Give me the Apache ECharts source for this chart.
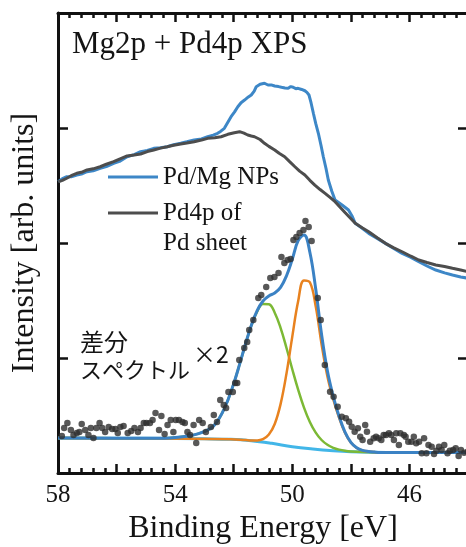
<!DOCTYPE html>
<html>
<head>
<meta charset="utf-8">
<script src="https://cdn.jsdelivr.net/npm/echarts@6/dist/echarts.min.js"></script>
<style>html,body{margin:0;padding:0;background:#fff;}#c{width:466px;height:547px;}</style>
</head>
<body>
<div id="c"></div>
<script>
// ---- tick labels ----
const energyTickLabels = [58, 54, 50, 46];

// ---- measured spectra [binding energy eV, intensity] ----
const pdMgNPs = [[57.99,2.533],[57.85,2.56],[57.70,2.577],[57.55,2.575],[57.36,2.591],[57.2,2.60],[57.01,2.620],[56.8,2.628],[56.56,2.650],[56.35,2.665],[56.10,2.693],[55.9,2.71],[55.64,2.750],[55.4,2.768],[55.18,2.794],[54.95,2.805],[54.73,2.823],[54.5,2.828],[54.27,2.837],[54.05,2.855],[53.81,2.867],[53.6,2.88],[53.35,2.896],[53.1,2.905],[52.89,2.924],[52.7,2.938],[52.55,2.954],[52.45,2.97],[52.32,2.997],[52.2,3.05],[52.09,3.098],[51.97,3.14],[51.86,3.185],[51.75,3.22],[51.63,3.243],[51.5,3.27],[51.40,3.287],[51.3,3.32],[51.23,3.359],[51.1,3.38],[50.95,3.389],[50.83,3.374],[50.72,3.375],[50.60,3.365],[50.47,3.36],[50.37,3.354],[50.25,3.348],[50.14,3.345],[50.05,3.36],[49.97,3.354],[49.88,3.342],[49.80,3.345],[49.68,3.335],[49.57,3.324],[49.50,3.31],[49.43,3.287],[49.36,3.22],[49.28,3.128],[49.2,3.04],[49.11,2.954],[49.02,2.85],[48.94,2.750],[48.85,2.65],[48.77,2.548],[48.65,2.45],[48.54,2.374],[48.3,2.33],[48.08,2.287],[47.95,2.23],[47.85,2.171],[47.6,2.125],[47.39,2.084],[47.1,2.04],[46.82,1.997],[46.55,1.955],[46.25,1.910],[45.95,1.875],[45.68,1.837],[45.4,1.80],[45.10,1.765],[44.8,1.74],[44.53,1.722],[44.25,1.705],[43.98,1.693]];

const pdSheet = [[57.99,2.533],[57.85,2.545],[57.70,2.563],[57.55,2.585],[57.36,2.606],[57.2,2.615],[57.01,2.635],[56.8,2.645],[56.56,2.663],[56.35,2.685],[56.10,2.707],[55.9,2.73],[55.64,2.757],[55.4,2.765],[55.18,2.774],[54.95,2.795],[54.73,2.809],[54.5,2.825],[54.27,2.837],[54.05,2.85],[53.81,2.861],[53.6,2.87],[53.35,2.881],[53.1,2.895],[52.89,2.910],[52.65,2.915],[52.43,2.924],[52.2,2.945],[51.98,2.959],[51.8,2.968],[51.65,2.955],[51.52,2.939],[51.4,2.93],[51.29,2.924],[51.1,2.9],[50.95,2.867],[50.8,2.84],[50.60,2.809],[50.45,2.78],[50.26,2.750],[50.1,2.71],[49.91,2.663],[49.75,2.625],[49.57,2.591],[49.4,2.545],[49.23,2.504],[49.05,2.465],[48.88,2.432],[48.7,2.395],[48.54,2.359],[48.2,2.265],[47.85,2.171],[47.6,2.13],[47.39,2.098],[47.1,2.045],[46.82,1.997],[46.55,1.96],[46.25,1.924],[45.95,1.885],[45.68,1.852],[45.4,1.83],[45.10,1.809],[44.8,1.795],[44.53,1.780],[44.25,1.765],[43.98,1.750]];

// ---- difference spectrum x2 (points) ----
const diffPoints = [[57.87,.322],[57.79,.391],[57.68,.435],[57.56,.374],[57.47,.330],[57.36,.348],[57.27,.357],[57.19,.426],[57.07,.374],[56.96,.330],[56.88,.391],[56.79,.304],[56.69,.391],[56.58,.435],[56.49,.391],[56.39,.357],[56.27,.400],[56.15,.383],[56.04,.383],[55.96,.348],[55.87,.400],[55.76,.409],[55.62,.348],[55.50,.365],[55.39,.391],[55.27,.357],[55.18,.391],[55.07,.435],[54.98,.435],[54.86,.435],[54.77,.461],[54.67,.522],[54.55,.374],[54.47,.496],[54.36,.339],[54.26,.417],[54.15,.461],[54.06,.357],[53.98,.461],[53.87,.461],[53.75,.443],[53.67,.435],[53.58,.357],[53.49,.330],[53.37,.417],[53.28,.261],[53.18,.461],[53.06,.435],[52.95,.357],[52.78,.400],[52.68,.504],[52.57,.443],[52.46,.635],[52.34,.591],[52.26,.565],[52.18,.704],[52.03,.704],[51.95,.783],[51.88,.783],[51.81,.983],[51.64,1.087],[51.54,1.139],[51.47,1.243],[51.33,1.330],[51.16,1.522],[51.06,1.548],[50.89,1.617],[50.75,1.696],[50.61,1.704],[50.47,1.739],[50.37,1.878],[50.27,1.826],[50.16,1.852],[50.06,1.861],[49.96,2.026],[49.86,2.052],[49.75,2.087],[49.62,2.113],[49.55,2.191],[49.44,2.139],[49.34,2.017],[49.13,1.522],[49.03,1.330],[48.89,.939],[48.71,.707],[48.59,.663],[48.45,.577],[48.31,.490],[48.17,.476],[48.06,.446],[47.97,.403],[47.87,.359],[47.76,.389],[47.68,.316],[47.60,.287],[47.51,.417],[47.45,.359],[47.34,.272],[47.22,.302],[47.14,.316],[47.05,.302],[46.96,.287],[46.88,.330],[46.80,.330],[46.70,.345],[46.62,.330],[46.53,.287],[46.45,.345],[46.36,.243],[46.31,.345],[46.19,.330],[46.13,.316],[46.04,.272],[45.93,.272],[45.85,.316],[45.77,.258],[45.67,.272],[45.58,.171],[45.50,.302],[45.42,.171],[45.35,.243],[45.24,.229],[45.16,.165],[45.08,.194],[44.99,.229],[44.90,.200],[44.81,.243],[44.70,.171],[44.62,.194],[44.51,.200],[44.42,.215],[44.32,.148],[44.24,.200],[44.13,.177],[44.01,.185]];

// ---- fitted curves ----
const backgroundFit = [[58,.304],[55,.302],[53,.297],[52.1,.293],[51.4,.281],[50.7,.258],[50.0,.229],[49.3,.209],[48.6,.194],[48.0,.185],[47.3,.180],[46.2,.178],[44,.178]];
const peakLow = [[58,.304],[55,.302],[54.2,.305],[53.6,.319],[53.2,.342],[52.8,.386],[52.6,.435],[52.4,.518],[52.2,.633],[52.0,.777],[51.8,.944],[51.6,1.119],[51.4,1.281],[51.2,1.404],[51.0,1.470],[50.8,1.468],[50.6,1.394],[50.4,1.262],[50.2,1.089],[50.0,.902],[49.8,.725],[49.6,.569],[49.4,.444],[49.2,.351],[49.0,.287],[48.8,.245],[48.6,.219],[48.4,.203],[48.2,.193],[48.0,.187],[47.6,.182],[47.0,.179],[44,.178]];
const peakHigh = [[58,.304],[55,.302],[52.1,.293],[51.6,.286],[51.4,.283],[51.2,.283],[51.0,.294],[50.8,.334],[50.6,.426],[50.4,.599],[50.2,.862],[50.0,1.186],[49.8,1.493],[49.6,1.675],[49.4,1.659],[49.2,1.449],[49.0,1.12],[48.8,.84],[48.6,.64],[48.4,.48],[48.2,.35],[48.0,.265],[47.8,.218],[47.6,.196],[47.4,.187],[47.2,.182],[47.0,.179],[44,.178]];
const totalFit = [[58,.304],[55,.302],[54.2,.305],[53.6,.319],[53.2,.342],[52.8,.386],[52.6,.435],[52.4,.518],[52.2,.633],[52.0,.777],[51.8,.944],[51.6,1.120],[51.4,1.283],[51.2,1.412],[51.0,1.496],[50.8,1.540],[50.6,1.565],[50.4,1.614],[50.2,1.713],[50.0,1.859],[49.8,2.02],[49.6,2.07],[49.4,1.92],[49.2,1.60],[49.0,1.205],[48.8,.887],[48.6,.665],[48.4,.492],[48.2,.355],[48.0,.267],[47.8,.22],[47.6,.197],[47.4,.187],[47.2,.182],[47.0,.179],[44,.178]];

const serif = '"Liberation Serif", "Times New Roman", serif';
const textColor = '#141414';
const chart = echarts.init(document.getElementById('c'), null, {renderer: 'canvas'});

const xBase = {
  type: 'value', min: 44, max: 58, interval: 2, inverse: true,
  axisLine: {show: true, onZero: false, lineStyle: {color: '#111', width: 3}},
  axisTick: {show: true, inside: true, length: 9, lineStyle: {color: '#111', width: 2.5}},
  minorTick: {show: true, splitNumber: 5, length: 5, lineStyle: {color: '#111', width: 2.5}},
  splitLine: {show: false}, minorSplitLine: {show: false}
};
const yBase = {
  type: 'value', min: 0, max: 4, interval: 1,
  axisLine: {show: true, onZero: false, lineStyle: {color: '#111', width: 3}},
  axisTick: {show: true, inside: true, length: 10, lineStyle: {color: '#111', width: 2.5}},
  axisLabel: {show: false}, splitLine: {show: false}
};

chart.setOption({
  animation: false,
  backgroundColor: '#fff',
  grid: {left: 58, top: 13, right: -2, bottom: 74, containLabel: false, outerBoundsMode: 'none'},
  title: {
    text: 'Mg2p + Pd4p XPS', left: 72, top: 29, padding: 0,
    textStyle: {fontFamily: serif, fontSize: 31, fontWeight: 'normal', color: textColor, lineHeight: 32}
  },
  legend: [
    {data: ['Pd/Mg NPs'], left: 108, top: 162, padding: 0, orient: 'vertical', icon: 'rect', itemWidth: 50, itemHeight: 3,
     selectedMode: false,
     textStyle: {fontFamily: serif, fontSize: 25, color: textColor, lineHeight: 30}},
    {data: ['Pd4p of\nPd sheet'], left: 108, top: 168, padding: 0, orient: 'vertical', icon: 'rect', itemWidth: 50, itemHeight: 3,
     selectedMode: false, formatter: name => '\n' + name,
     textStyle: {fontFamily: serif, fontSize: 25, color: textColor, lineHeight: 30}}
  ],
  xAxis: [
    Object.assign({}, xBase, {
      position: 'bottom',
      name: 'Binding Energy [eV]', nameLocation: 'middle', nameGap: 40,
      nameTextStyle: {fontFamily: serif, fontSize: 32, color: textColor, lineHeight: 32},
      axisLabel: {show: true, margin: 10, fontFamily: serif, fontSize: 25, color: textColor,
        formatter: v => energyTickLabels.includes(v) ? String(v) : ''}
    }),
    Object.assign({}, xBase, {position: 'top', axisLabel: {show: false}})
  ],
  yAxis: [
    Object.assign({}, yBase, {
      position: 'left',
      name: 'Intensity [arb. units]', nameLocation: 'middle', nameGap: 17, nameRotate: 90,
      nameTextStyle: {fontFamily: serif, fontSize: 32, color: textColor, lineHeight: 32}
    }),
    Object.assign({}, yBase, {position: 'right'})
  ],
  graphic: [
    {type: 'text', left: 80, top: 330, style: {text: '差分', font: '24px "Noto Sans CJK JP"', fill: textColor}},
    {type: 'text', left: 80, top: 359, style: {text: 'スペクトル', font: '22px "Noto Sans CJK JP"', fill: textColor}},
    {type: 'text', left: 193, top: 343, style: {text: '×2', font: '23px "Noto Sans CJK JP"', fill: textColor}}
  ],
  series: [
    {name: 'Pd/Mg NPs', type: 'line', data: pdMgNPs, color: '#3d87c7', showSymbol: false, symbol: 'none',
     lineStyle: {width: 3, color: '#3d87c7'}, z: 2},
    {name: 'Pd4p of\nPd sheet', type: 'line', data: pdSheet, color: '#4d4d4d', showSymbol: false, symbol: 'none',
     lineStyle: {width: 3, color: '#4d4d4d'}, z: 3},
    {name: 'background', type: 'line', data: backgroundFit, smooth: 0.4, symbol: 'none',
     lineStyle: {width: 3, color: '#42b6e8'}, z: 4},
    {name: 'peak1', type: 'line', data: peakLow, smooth: 0.4, symbol: 'none',
     lineStyle: {width: 2.5, color: '#7cb935'}, z: 5},
    {name: 'peak2', type: 'line', data: peakHigh, smooth: 0.4, symbol: 'none',
     lineStyle: {width: 2.5, color: '#e8821f'}, z: 5},
    {name: 'fit', type: 'line', data: totalFit, smooth: 0.4, symbol: 'none',
     lineStyle: {width: 3, color: '#3b82c4'}, z: 6},
    {name: 'diff', type: 'scatter', data: diffPoints, symbolSize: 6.5,
     itemStyle: {color: '#2e2e2e'}, z: 7}
  ]
});
</script>
</body>
</html>
